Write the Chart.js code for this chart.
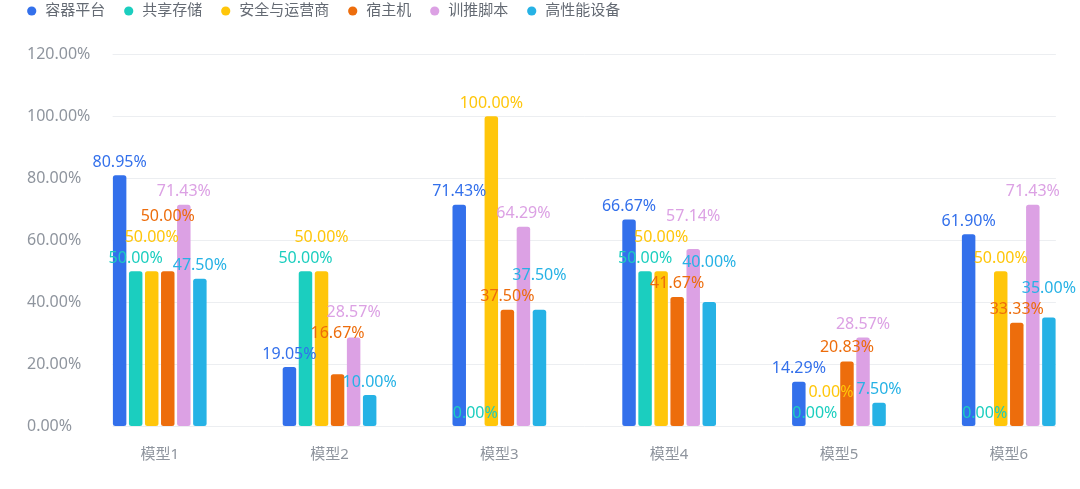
<!DOCTYPE html>
<html><head><meta charset="utf-8">
<script src="https://cdn.jsdelivr.net/npm/chart.js@4.4.1/dist/chart.umd.min.js"></script>
<style>html,body{margin:0;padding:0;background:#fff;}#wrap{position:relative;width:1080px;height:489px;}</style>
</head><body><div id="wrap"><canvas id="c" width="1080" height="489"></canvas></div>
<script>
const categories = ['模型1','模型2','模型3','模型4','模型5','模型6'];
const seriesNames = ['容器平台','共享存储','安全与运营商','宿主机','训推脚本','高性能设备'];
const containerPlatform = [80.95, 19.05, 71.43, 66.67, 14.29, 61.90];
const sharedStorage = [50.00, 50.00, 0.00, 50.00, 0.00, 0.00];
const securityOps = [50.00, 50.00, 100.00, 50.00, 0.00, 50.00];
const hostMachine = [50.00, 16.67, 37.50, 41.67, 20.83, 33.33];
const trainScripts = [71.43, 28.57, 64.29, 57.14, 28.57, 71.43];
const hpcDevices = [47.50, 10.00, 37.50, 40.00, 7.50, 35.00];
const yTicks = [0, 20, 40, 60, 80, 100, 120];

const seriesValues = [containerPlatform, sharedStorage, securityOps, hostMachine, trainScripts, hpcDevices];
const colors = ['#3370eb','#1bcebf','#ffc60a','#ed6d0c','#dca1e4','#26b2e5'];
const FONT = '"Noto Sans", "Noto Sans CJK SC", sans-serif';
const fmt = v => v.toFixed(2) + '%';

const gridPlugin = {
  id: 'extGrid',
  beforeDatasetsDraw(chart) {
    const {ctx, chartArea} = chart;
    const xs = chart.scales.x, ys = chart.scales.y;
    const step = xs.getPixelForValue(1) - xs.getPixelForValue(0);
    const ext = step * 0.567 / 2 - 1;
    ctx.save();
    ctx.strokeStyle = '#eceef1';
    ctx.lineWidth = 1;
    ys.ticks.forEach(t => {
      const y = Math.round(ys.getPixelForValue(t.value)) + 0.5;
      ctx.beginPath();
      ctx.moveTo(chartArea.left - ext, y);
      ctx.lineTo(chartArea.right + ext, y);
      ctx.stroke();
    });
    ctx.restore();
  }
};

const legendShift = {
  id: 'legendShift',
  afterLayout(chart) {
    chart.legend.left = 8.2;
    chart.legend.top = -14;
  }
};

const labelPlugin = {
  id: 'barLabels',
  afterDatasetsDraw(chart) {
    const ctx = chart.ctx;
    ctx.save();
    ctx.font = '16px ' + FONT;
    ctx.textAlign = 'center';
    ctx.textBaseline = 'middle';
    const H = 21, gap = 13;
    for (let i = 0; i < categories.length; i++) {
      const placed = [];
      chart.data.datasets.forEach((ds, di) => {
        const el = chart.getDatasetMeta(di).data[i];
        const text = fmt(ds.data[i]);
        const w = ctx.measureText(text).width;
        const x = el.x;
        let y = el.y - gap;
        let moved = true;
        while (moved) {
          moved = false;
          for (const p of placed) {
            if (Math.abs(p.x - x) < (p.w + w) / 2 && Math.abs(p.y - y) < H - 0.01) {
              y = p.y - H; moved = true;
            }
          }
        }
        placed.push({x, y, w});
        ctx.fillStyle = ds.backgroundColor;
        ctx.fillText(text, x, y);
      });
    }
    ctx.restore();
  }
};

new Chart(document.getElementById('c'), {
  type: 'bar',
  data: {
    labels: categories,
    datasets: seriesNames.map((name, i) => ({
      label: name,
      data: seriesValues[i],
      backgroundColor: colors[i],
      borderWidth: 0,
      borderRadius: 2.5,
      borderSkipped: false,
      categoryPercentage: 0.567,
      barPercentage: 0.84,
      clip: false
    }))
  },
  options: {
    responsive: false,
    animation: false,
    devicePixelRatio: 1,
    layout: {padding: {left: 27, right: 71.25, top: 11.8, bottom: 0}},
    plugins: {
      tooltip: {enabled: false},
      legend: {
        position: 'top',
        align: 'start',
        labels: {
          usePointStyle: true,
          pointStyle: 'circle',
          boxWidth: 12,
          boxHeight: 6.5,
          padding: 17.5,
          color: '#646a73',
          font: {size: 15, family: FONT}
        }
      }
    },
    scales: {
      x: {
        offset: false,
        grid: {display: false, drawTicks: false},
        border: {display: false},
        ticks: {color: '#8f959e', font: {size: 15, family: FONT}, padding: 20, maxRotation: 0, autoSkip: false},
        afterFit: s => { s.height = 63; }
      },
      y: {
        min: 0, max: 120,
        grid: {display: false, drawTicks: false},
        border: {display: false},
        afterBuildTicks: s => { s.ticks = yTicks.map(v => ({value: v})); },
        ticks: {color: '#8f959e', font: {size: 16, family: FONT}, crossAlign: 'far', callback: v => fmt(v)},
        afterFit: s => { s.width = 132.75; }
      }
    }
  },
  plugins: [gridPlugin, legendShift, labelPlugin]
});
</script></body></html>
